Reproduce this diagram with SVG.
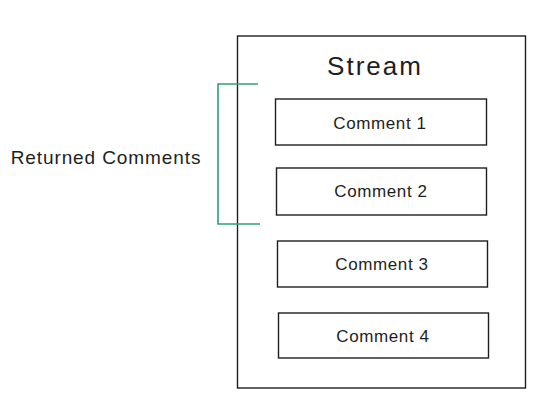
<svg xmlns="http://www.w3.org/2000/svg" width="557" height="419" viewBox="0 0 557 419">
<style>
.box{fill:none;stroke:#1e1e1e;stroke-width:1.4}
.lbl{font-family:"Liberation Sans","DejaVu Sans",sans-serif;fill:#1e1e1e;text-anchor:middle;dominant-baseline:central}
.c{font-size:17px;letter-spacing:0.6px}
.br{fill:none;stroke:#2f9e78;stroke-width:1.6}
</style>
<rect width="557" height="419" fill="#ffffff"/>
<g id="stream">
<rect class="box" x="237.5" y="36" width="288" height="352"/>
<text class="lbl" x="375" y="66" font-size="26" letter-spacing="2">Stream</text>
</g>
<g id="comment1">
<rect class="box" x="275.5" y="99" width="211" height="46"/>
<text class="lbl c" x="380" y="123">Comment 1</text>
</g>
<g id="comment2">
<rect class="box" x="276.5" y="168" width="210" height="47"/>
<text class="lbl c" x="381" y="191">Comment 2</text>
</g>
<g id="comment3">
<rect class="box" x="277.5" y="241" width="210" height="46"/>
<text class="lbl c" x="382" y="264">Comment 3</text>
</g>
<g id="comment4">
<rect class="box" x="278.5" y="313" width="210" height="45"/>
<text class="lbl c" x="383" y="336">Comment 4</text>
</g>
<g id="returned">
<text class="lbl" x="106" y="157" font-size="19" letter-spacing="0.9">Returned Comments</text>
</g>
<g id="connectors">
<path class="br" d="M258 84 L218 84 L218 224 L260 224"/>
</g>
</svg>
